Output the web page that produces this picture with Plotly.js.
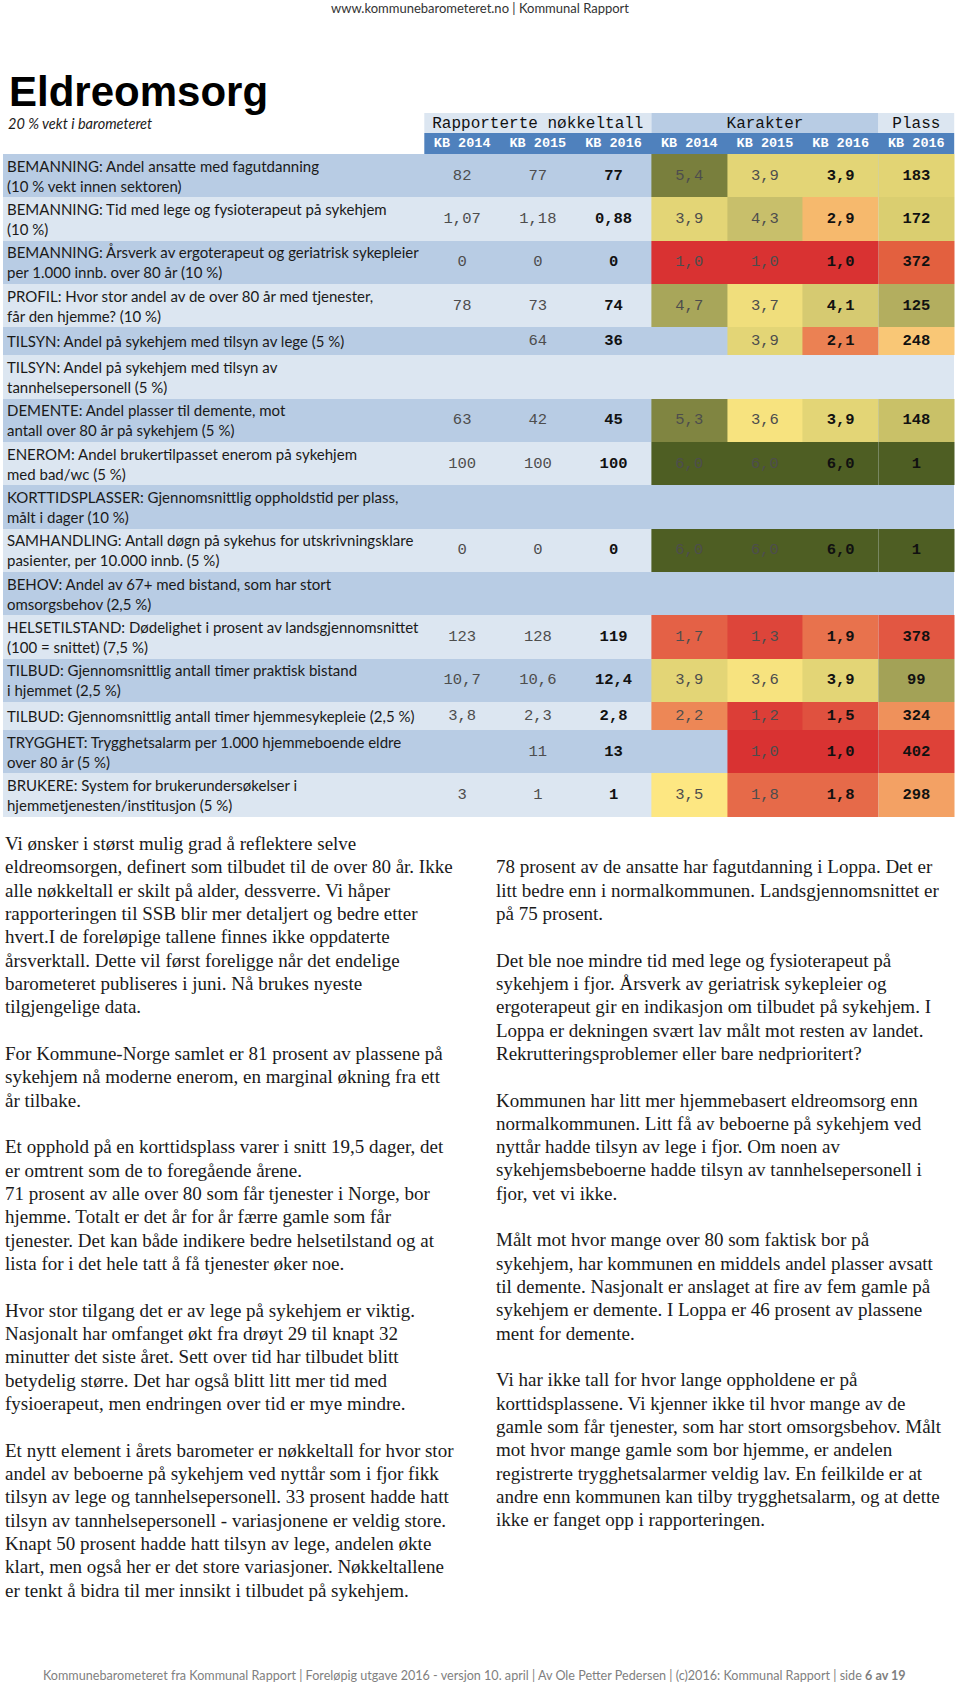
<!DOCTYPE html>
<html><head><meta charset="utf-8">
<script src="https://cdn.plot.ly/plotly-3.0.1.min.js"></script>
<style>html,body{margin:0;padding:0;background:#fff}#chart{width:960px;height:1683px}</style>
</head><body><div id="chart"></div>
<script>
// ---------------- DATA ----------------
const rowLabels = [
  "BEMANNING: Andel ansatte med fagutdanning<br>(10 % vekt innen sektoren)",
  "BEMANNING: Tid med lege og fysioterapeut på sykehjem<br>(10 %)",
  "BEMANNING: Årsverk av ergoterapeut og geriatrisk sykepleier<br>per 1.000 innb. over 80 år (10 %)",
  "PROFIL: Hvor stor andel av de over 80 år med tjenester,<br>får den hjemme? (10 %)",
  "TILSYN: Andel på sykehjem med tilsyn av lege (5 %)",
  "TILSYN: Andel på sykehjem med tilsyn av<br>tannhelsepersonell (5 %)",
  "DEMENTE: Andel plasser til demente, mot<br>antall over 80 år på sykehjem (5 %)",
  "ENEROM: Andel brukertilpasset enerom på sykehjem<br>med bad/wc (5 %)",
  "KORTTIDSPLASSER: Gjennomsnittlig oppholdstid per plass,<br>målt i dager (10 %)",
  "SAMHANDLING: Antall døgn på sykehus for utskrivningsklare<br>pasienter, per 10.000 innb. (5 %)",
  "BEHOV: Andel av 67+ med bistand, som har stort<br>omsorgsbehov (2,5 %)",
  "HELSETILSTAND: Dødelighet i prosent av landsgjennomsnittet<br>(100 = snittet) (7,5 %)",
  "TILBUD: Gjennomsnittlig antall timer praktisk bistand<br>i hjemmet (2,5 %)",
  "TILBUD: Gjennomsnittlig antall timer hjemmesykepleie (2,5 %)",
  "TRYGGHET: Trygghetsalarm per 1.000 hjemmeboende eldre<br>over 80 år (5 %)",
  "BRUKERE: System for brukerundersøkelser i<br>hjemmetjenesten/institusjon (5 %)"
];
const nokkel2014 = [82, 1.07, 0, 78, null, null, 63, 100, null, 0, null, 123, 10.7, 3.8, null, 3];
const nokkel2015 = [77, 1.18, 0, 73, 64, null, 42, 100, null, 0, null, 128, 10.6, 2.3, 11, 1];
const nokkel2016 = [77, 0.88, 0, 74, 36, null, 45, 100, null, 0, null, 119, 12.4, 2.8, 13, 1];
const nokkelDecimals = [0, 2, 0, 0, 0, 0, 0, 0, 0, 0, 0, 0, 1, 1, 0, 0];
const karakter2014 = [5.4, 3.9, 1.0, 4.7, null, null, 5.3, 6.0, null, 6.0, null, 1.7, 3.9, 2.2, null, 3.5];
const karakter2015 = [3.9, 4.3, 1.0, 3.7, 3.9, null, 3.6, 6.0, null, 6.0, null, 1.3, 3.6, 1.2, 1.0, 1.8];
const karakter2016 = [3.9, 2.9, 1.0, 4.1, 2.1, null, 3.9, 6.0, null, 6.0, null, 1.9, 3.9, 1.5, 1.0, 1.8];
const plass2016 = [183, 172, 372, 125, 248, null, 148, 1, null, 1, null, 378, 99, 324, 402, 298];
const groupHeaders = ["Rapporterte nøkkeltall", "Karakter", "Plass"];
const columnHeaders = ["KB 2014", "KB 2015", "KB 2016", "KB 2014", "KB 2015", "KB 2016", "KB 2016"];

const pageHeader = "www.kommunebarometeret.no | Kommunal Rapport";
const pageTitle = "Eldreomsorg";
const pageSubtitle = "20 % vekt i barometeret";
const footerText = "Kommunebarometeret fra Kommunal Rapport | Foreløpig utgave 2016 - versjon 10. april | Av Ole Petter Pedersen | (c)2016: Kommunal Rapport | side <b>6 av 19</b>";

const leftText = [
  "Vi ønsker i størst mulig grad å reflektere selve",
  "eldreomsorgen, definert som tilbudet til de over 80 år. Ikke",
  "alle nøkkeltall er skilt på alder, dessverre. Vi håper",
  "rapporteringen til SSB blir mer detaljert og bedre etter",
  "hvert.I de foreløpige tallene finnes ikke oppdaterte",
  "årsverktall. Dette vil først foreligge når det endelige",
  "barometeret publiseres i juni. Nå brukes nyeste",
  "tilgjengelige data.",
  "",
  "For Kommune-Norge samlet er 81 prosent av plassene på",
  "sykehjem nå moderne enerom, en marginal økning fra ett",
  "år tilbake.",
  "",
  "Et opphold på en korttidsplass varer i snitt 19,5 dager, det",
  "er omtrent som de to foregående årene.",
  "71 prosent av alle over 80 som får tjenester i Norge, bor",
  "hjemme. Totalt er det år for år færre gamle som får",
  "tjenester. Det kan både indikere bedre helsetilstand og at",
  "lista for i det hele tatt å få tjenester øker noe.",
  "",
  "Hvor stor tilgang det er av lege på sykehjem er viktig.",
  "Nasjonalt har omfanget økt fra drøyt 29 til knapt 32",
  "minutter det siste året. Sett over tid har tilbudet blitt",
  "betydelig større. Det har også blitt litt mer tid med",
  "fysioerapeut, men endringen over tid er mye mindre.",
  "",
  "Et nytt element i årets barometer er nøkkeltall for hvor stor",
  "andel av beboerne på sykehjem ved nyttår som i fjor fikk",
  "tilsyn av lege og tannhelsepersonell. 33 prosent hadde hatt",
  "tilsyn av tannhelsepersonell - variasjonene er veldig store.",
  "Knapt 50 prosent hadde hatt tilsyn av lege, andelen økte",
  "klart, men også her er det store variasjoner. Nøkkeltallene",
  "er tenkt å bidra til mer innsikt i tilbudet på sykehjem."
];
const rightText = [
  "78 prosent av de ansatte har fagutdanning i Loppa. Det er",
  "litt bedre enn i normalkommunen. Landsgjennomsnittet er",
  "på 75 prosent.",
  "",
  "Det ble noe mindre tid med lege og fysioterapeut på",
  "sykehjem i fjor. Årsverk av geriatrisk sykepleier og",
  "ergoterapeut gir en indikasjon om tilbudet på sykehjem. I",
  "Loppa er dekningen svært lav målt mot resten av landet.",
  "Rekrutteringsproblemer eller bare nedprioritert?",
  "",
  "Kommunen har litt mer hjemmebasert eldreomsorg enn",
  "normalkommunen. Litt få av beboerne på sykehjem ved",
  "nyttår hadde tilsyn av lege i fjor. Om noen av",
  "sykehjemsbeboerne hadde tilsyn av tannhelsepersonell i",
  "fjor, vet vi ikke.",
  "",
  "Målt mot hvor mange over 80 som faktisk bor på",
  "sykehjem, har kommunen en middels andel plasser avsatt",
  "til demente. Nasjonalt er anslaget at fire av fem gamle på",
  "sykehjem er demente. I Loppa er 46 prosent av plassene",
  "ment for demente.",
  "",
  "Vi har ikke tall for hvor lange oppholdene er på",
  "korttidsplassene. Vi kjenner ikke til hvor mange av de",
  "gamle som får tjenester, som har stort omsorgsbehov. Målt",
  "mot hvor mange gamle som bor hjemme, er andelen",
  "registrerte trygghetsalarmer veldig lav. En feilkilde er at",
  "andre enn kommunen kan tilby trygghetsalarm, og at dette",
  "ikke er fanget opp i rapporteringen."
];

// ---------------- LAYOUT CONSTANTS ----------------
const W = 960, H = 1683;
const tableX0 = 424.3, colW = 75.7, stripeX0 = 3;
const headTop = 113, headMid = 133, bodyTop = 154;
const rowH1 = 28, rowH2 = 43.33;
const labelFont = "Lato, 'Noto Sans', sans-serif";
const monoFont = "'Liberation Mono', 'Courier New', monospace";
const serifFont = "'Liberation Serif', 'Times New Roman', serif";

const colEdges = [];
for (let c = 0; c <= 7; c++) colEdges.push(tableX0 + c * colW);
const colCenters = colEdges.slice(0, 7).map((x, c) => (x + colEdges[c + 1]) / 2);
const tableX1 = colEdges[7];

const yEdges = [bodyTop];
rowLabels.forEach((lab, i) => {
  const lines = lab.split("<br>").length;
  yEdges.push(yEdges[i] + (lines > 1 ? rowH2 : rowH1));
});
const yCenters = rowLabels.map((_, i) => (yEdges[i] + yEdges[i + 1]) / 2);

function fmt(v, d) { return v === null ? null : v.toFixed(d).replace(".", ","); }

// ---------------- TRACES ----------------
const traces = [];
// row stripes
traces.push({
  type: "heatmap", x: [stripeX0, tableX1], y: yEdges,
  z: rowLabels.map((_, i) => [i % 2]),
  colorscale: [[0, "#b8cce4"], [1, "#dce6f1"]], zmin: 0, zmax: 1,
  showscale: false, hoverinfo: "skip", xgap: 0, ygap: 0
});
// grade cells
const gradeScale = [[0, "#d93232"], [0.1, "#e0513f"], [0.2, "#ea7a50"], [0.3, "#f19b60"], [0.4, "#f7c070"],
  [0.5, "#fde782"], [0.58, "#e3d576"], [0.66, "#c8bf6b"], [0.74, "#a8a65a"], [0.86, "#808541"], [1, "#4e5e23"]];
traces.push({
  type: "heatmap", x: colEdges.slice(3, 7), y: yEdges,
  z: rowLabels.map((_, i) => [karakter2014[i], karakter2015[i], karakter2016[i]]),
  colorscale: gradeScale, zmin: 1, zmax: 6, showscale: false, hoverinfo: "skip"
});
// rank cells
const rankScale = [[0, "#4e5e23"], [0.2295, "#a3a257"], [0.29, "#b3ae5f"], [0.344, "#c9c168"], [0.426, "#e2d474"],
  [0.5, "#fbe07f"], [0.5785, "#f9c776"], [0.6956, "#f3a164"], [0.7564, "#ef915b"], [0.8689, "#e3603f"],
  [0.8829, "#e25742"], [0.9391, "#de4138"], [1, "#d93232"]];
traces.push({
  type: "heatmap", x: colEdges.slice(6, 8), y: yEdges,
  z: rowLabels.map((_, i) => [plass2016[i]]),
  colorscale: rankScale, zmin: 1, zmax: 428, showscale: false, hoverinfo: "skip"
});

function textTrace(col, vals, decs, bold) {
  const xs = [], ys = [], ts = [];
  vals.forEach((v, i) => {
    if (v === null) return;
    const d = Array.isArray(decs) ? decs[i] : decs;
    xs.push(colCenters[col]); ys.push(yCenters[i]);
    const s = fmt(v, d);
    ts.push(bold ? "<b>" + s + "</b>" : s);
  });
  return {
    type: "scatter", mode: "text", x: xs, y: ys, text: ts, textposition: "middle center",
    textfont: { family: monoFont, size: 15.5, color: bold ? "#111111" : "#4d4d4d" },
    hoverinfo: "skip", showlegend: false, cliponaxis: false
  };
}
traces.push(textTrace(0, nokkel2014, nokkelDecimals, false));
traces.push(textTrace(1, nokkel2015, nokkelDecimals, false));
traces.push(textTrace(2, nokkel2016, nokkelDecimals, true));
traces.push(textTrace(3, karakter2014, 1, false));
traces.push(textTrace(4, karakter2015, 1, false));
traces.push(textTrace(5, karakter2016, 1, true));
traces.push(textTrace(6, plass2016, 0, true));
// column headers
traces.push({
  type: "scatter", mode: "text", x: colCenters, y: colCenters.map(() => (headMid + bodyTop) / 2),
  text: columnHeaders.map(t => "<b>" + t + "</b>"), textposition: "middle center",
  textfont: { family: monoFont, size: 13.5, color: "#ffffff" }, hoverinfo: "skip", cliponaxis: false
});
const groupSpans = [[0, 3], [3, 6], [6, 7]];
traces.push({
  type: "scatter", mode: "text",
  x: groupSpans.map(s => (colEdges[s[0]] + colEdges[s[1]]) / 2),
  y: groupSpans.map(() => (headTop + headMid) / 2 + 0.5),
  text: groupHeaders, textposition: "middle center",
  textfont: { family: monoFont, size: 16, color: "#111111" }, hoverinfo: "skip", cliponaxis: false
});

// ---------------- SHAPES ----------------
const groupColors = ["#dce6f1", "#b8cce4", "#dce6f1"];
const shapes = groupSpans.map((s, k) => ({
  type: "rect", xref: "x", yref: "y", layer: "below",
  x0: colEdges[s[0]], x1: colEdges[s[1]], y0: headTop, y1: headMid,
  fillcolor: groupColors[k], line: { width: 0 }
}));
shapes.push({ type: "rect", xref: "x", yref: "y", layer: "below",
  x0: tableX0, x1: tableX1, y0: headMid, y1: bodyTop, fillcolor: "#4f81bd", line: { width: 0 } });

// ---------------- ANNOTATIONS ----------------
const annotations = [];
rowLabels.forEach((lab, i) => annotations.push({
  xref: "x", yref: "y", x: 5, y: yCenters[i], xanchor: "left", yanchor: "middle", align: "left",
  text: lab, showarrow: false, font: { family: labelFont, size: 15, color: "#1a1a1a" }
}));
annotations.push({ xref: "x", yref: "y", x: W / 2, y: 8, xanchor: "center", yanchor: "middle",
  text: pageHeader, showarrow: false, font: { family: labelFont, size: 13, color: "#333333" } });
annotations.push({ xref: "x", yref: "y", x: 7, y: 91, xanchor: "left", yanchor: "middle",
  text: "<b>" + pageTitle + "</b>", showarrow: false, font: { family: "'Liberation Sans', Arial, sans-serif", size: 42, color: "#000000" } });
annotations.push({ xref: "x", yref: "y", x: 6, y: 123, xanchor: "left", yanchor: "middle",
  text: "<i>" + pageSubtitle + "</i>", showarrow: false, font: { family: labelFont, size: 14.5, color: "#1a1a1a" } });
annotations.push({ xref: "x", yref: "y", x: 908, y: 1675, xanchor: "right", yanchor: "middle",
  text: footerText, showarrow: false, font: { family: labelFont, size: 12.6, color: "#7f7f7f" } });

const lineStep = 23.33;
function addColumn(lines, x, y0) {
  lines.forEach((t, i) => {
    if (!t) return;
    annotations.push({ xref: "x", yref: "y", x: x, y: y0 + i * lineStep, xanchor: "left", yanchor: "middle",
      text: t, showarrow: false, font: { family: serifFont, size: 19, color: "#1a1a1a" } });
  });
}
addColumn(leftText, 3, 843.5);
addColumn(rightText, 494, 866.7);

const layout = {
  width: W, height: H, margin: { l: 0, r: 0, t: 0, b: 0, pad: 0 },
  paper_bgcolor: "#ffffff", plot_bgcolor: "#ffffff", showlegend: false, hovermode: false,
  xaxis: { range: [0, W], visible: false, fixedrange: true },
  yaxis: { range: [H, 0], visible: false, fixedrange: true },
  shapes: shapes, annotations: annotations
};
Plotly.newPlot("chart", traces, layout, { staticPlot: true, displayModeBar: false });
</script>
</body></html>
